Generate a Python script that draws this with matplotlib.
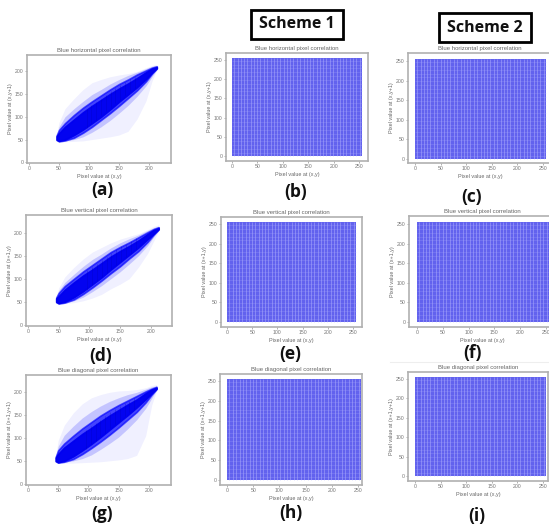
# plot.py
import matplotlib
matplotlib.use('Agg')
import matplotlib.pyplot as plt
from matplotlib.patches import Rectangle

W, H = 549, 525

# ─────────────────────────────────────────────────────────────
# VALUES
# ─────────────────────────────────────────────────────────────

band_x = [46, 50, 60, 75, 90, 105, 120, 135, 150, 165, 180, 195, 205, 213]

a_core_lo  = [50, 47, 50, 60, 72, 86, 100, 116, 133, 149, 165, 183, 197, 207]
a_core_hi  = [57, 64, 78, 94, 110, 124, 137, 150, 162, 173, 185, 198, 206, 209]
a_mid_lo   = [49, 46, 48, 54, 65, 78, 93, 108, 124, 141, 158, 178, 195, 206]
a_mid_hi   = [59, 71, 86, 104, 120, 134, 147, 160, 172, 182, 193, 202, 208, 211]
a_inner_lo = [48, 46, 47, 50, 56, 66, 78, 92, 108, 125, 145, 168, 188, 204]
a_inner_hi = [60, 78, 100, 118, 134, 149, 160, 172, 182, 191, 198, 206, 211, 213]
a_outer_lo = [47, 45, 45, 46, 47, 50, 53, 56, 60, 68, 95, 135, 178, 203]
a_outer_hi = [62, 88, 118, 140, 160, 175, 182, 188, 192, 195, 200, 208, 213, 215]

d_core_lo  = [50, 47, 50, 60, 73, 88, 103, 120, 136, 152, 168, 186, 198, 208]
d_core_hi  = [57, 62, 76, 92, 107, 120, 134, 148, 160, 171, 183, 197, 206, 210]
d_mid_lo   = [49, 46, 48, 55, 67, 81, 96, 112, 127, 144, 160, 180, 196, 207]
d_mid_hi   = [59, 69, 84, 100, 116, 130, 144, 158, 169, 179, 190, 201, 208, 212]
d_inner_lo = [48, 46, 48, 52, 60, 72, 85, 100, 115, 132, 150, 172, 191, 205]
d_inner_hi = [60, 74, 92, 110, 127, 142, 154, 167, 178, 187, 195, 205, 211, 214]
d_outer_lo = [47, 45, 46, 48, 52, 58, 66, 78, 88, 100, 125, 155, 182, 204]
d_outer_hi = [62, 80, 104, 125, 143, 158, 168, 178, 186, 192, 198, 207, 214, 217]

g_core_lo  = [50, 47, 50, 60, 73, 87, 102, 118, 134, 150, 167, 185, 198, 208]
g_core_hi  = [57, 65, 79, 94, 109, 122, 136, 149, 161, 173, 184, 198, 206, 210]
g_mid_lo   = [49, 46, 48, 54, 65, 78, 92, 107, 123, 140, 157, 178, 195, 207]
g_mid_hi   = [59, 73, 88, 105, 121, 135, 149, 161, 172, 182, 192, 202, 208, 212]
g_inner_lo = [48, 46, 47, 50, 55, 63, 75, 88, 102, 120, 140, 165, 187, 205]
g_inner_hi = [60, 82, 106, 126, 144, 158, 170, 180, 188, 195, 200, 207, 212, 214]
g_outer_lo = [47, 45, 45, 45, 46, 47, 48, 50, 52, 55, 62, 105, 172, 203]
g_outer_hi = [62, 95, 128, 155, 175, 188, 195, 200, 203, 204, 206, 210, 215, 217]

streak_x  = [96, 104, 112, 120, 128, 136, 144, 152, 160, 168, 176]
streak_lo = [76, 86, 94, 104, 112, 122, 130, 138, 148, 156, 164]
streak_hi = [118, 126, 132, 140, 148, 156, 164, 170, 176, 182, 188]

block_lo = 0
block_hi = 255
gap_x = [4, 11, 17, 24, 30, 37, 43, 50, 56, 63, 69, 76, 82, 89, 95, 102, 108,
         115, 121, 128, 134, 141, 147, 154, 160, 167, 173, 180, 186, 193, 199,
         206, 212, 219, 225, 232, 238, 245, 251]
gap_y = [8, 18, 28, 38, 48, 58, 68, 78, 88, 98, 108, 118, 128, 138, 148, 158,
         168, 178, 188, 198, 208, 218, 228, 238, 248]

corr_ticks = [0, 50, 100, 150, 200]
cipher_ticks = [0, 50, 100, 150, 200, 250]
captions = ["(a)", "(b)", "(c)", "(d)", "(e)", "(f)", "(g)", "(h)", "(i)"]

# ─────────────────────────────────────────────────────────────
# LAYOUT — pixel boxes (left, right, top, bottom) and tick anchors
# ─────────────────────────────────────────────────────────────

def make_axes(box, x_anchor, y_anchor, x_top, y_top):
    left, right, top, bottom = box
    ax = fig.add_axes([left / W, 1 - bottom / H, (right - left) / W, (bottom - top) / H])
    sx = (x_anchor[1] - x_anchor[0]) / x_top
    sy = (y_anchor[0] - y_anchor[1]) / y_top
    ax.set_xlim((left - x_anchor[0]) / sx, (right - x_anchor[0]) / sx)
    ax.set_ylim((y_anchor[0] - bottom) / sy, (y_anchor[0] - top) / sy)
    for s in ax.spines.values():
        s.set_color("#b0b0b0")
        s.set_linewidth(1.2)
    ax.tick_params(labelsize=3.7, length=1.2, width=0.4, pad=1.2,
                   colors="#777777")
    return ax


def label_axes(ax, title, ylabel, ticks):
    ax.set_title(title, fontsize=4.3, color="#666666", pad=2.2)
    ax.set_xlabel("Pixel value at (x,y)", fontsize=3.9, color="#666666", labelpad=2.2)
    ax.set_ylabel(ylabel, fontsize=3.9, color="#666666", labelpad=1.5)
    ax.set_xticks(ticks)
    ax.set_yticks(ticks)


def draw_band(ax, core_lo, core_hi, mid_lo, mid_hi, inner_lo, inner_hi, outer_lo, outer_hi):
    ax.fill_between(band_x, outer_lo, outer_hi, color="#0000ff", alpha=0.06, lw=0)
    ax.fill_between(band_x, inner_lo, inner_hi, color="#0000ff", alpha=0.18, lw=0)
    ax.fill_between(band_x, mid_lo, mid_hi, color="#0000ff", alpha=0.65, lw=1.2)
    ax.fill_between(band_x, core_lo, core_hi, color="#0000f0", alpha=0.95, lw=1.2)
    ax.vlines(streak_x, streak_lo, streak_hi, color="#0000b8", lw=0.6, alpha=0.3)


def draw_block(ax):
    ax.fill_between([block_lo, block_hi], block_lo, block_hi, color="#6262ee", lw=0)
    ax.vlines(gap_x, block_lo, block_hi, color="#b4b4ff", lw=0.55, alpha=0.6)
    ax.hlines(gap_y, block_lo, block_hi, color="#b4b4ff", lw=0.4, alpha=0.35)


fig = plt.figure(figsize=(W / 100, H / 100), dpi=100)
plt.rcParams['font.family'] = ['Liberation Sans', 'DejaVu Sans']

# correlation panels
ax = make_axes((27, 171, 55, 163), (29, 149), (162.3, 71.3), 200, 200)
draw_band(ax, a_core_lo, a_core_hi, a_mid_lo, a_mid_hi, a_inner_lo, a_inner_hi, a_outer_lo, a_outer_hi)
label_axes(ax, "Blue horizontal pixel correlation", "Pixel value at (x,y+1)", corr_ticks)

ax = make_axes((26, 172, 215, 326), (28, 150.7), (324.7, 232.7), 200, 200)
draw_band(ax, d_core_lo, d_core_hi, d_mid_lo, d_mid_hi, d_inner_lo, d_inner_hi, d_outer_lo, d_outer_hi)
label_axes(ax, "Blue vertical pixel correlation", "Pixel value at (x+1,y)", corr_ticks)

ax = make_axes((26, 171, 375, 485), (28, 148.7), (483.7, 392.3), 200, 200)
draw_band(ax, g_core_lo, g_core_hi, g_mid_lo, g_mid_hi, g_inner_lo, g_inner_hi, g_outer_lo, g_outer_hi)
label_axes(ax, "Blue diagonal pixel correlation", "Pixel value at (x+1,y+1)", corr_ticks)

# cipher panels
cipher_panels = [
    ((226, 368, 53, 161), (232, 359), (156, 60), "Blue horizontal pixel correlation", "Pixel value at (x,y+1)"),
    ((408, 552, 53, 163), (415, 543), (159, 61), "Blue horizontal pixel correlation", "Pixel value at (x,y+1)"),
    ((221, 362, 217, 327), (227, 353), (322, 224), "Blue vertical pixel correlation", "Pixel value at (x+1,y)"),
    ((409, 555, 216, 327), (417, 546), (322, 224), "Blue vertical pixel correlation", "Pixel value at (x+1,y)"),
    ((220, 362, 374, 485), (227, 358), (480, 381), "Blue diagonal pixel correlation", "Pixel value at (x+1,y+1)"),
    ((408, 548, 372, 481), (415, 543), (476, 379), "Blue diagonal pixel correlation", "Pixel value at (x+1,y+1)"),
]
for box, xa, ya, title, ylabel in cipher_panels:
    ax = make_axes(box, xa, ya, 250, 250)
    draw_block(ax)
    label_axes(ax, title, ylabel, cipher_ticks)

# scheme boxes
for (left, top, right, bottom), name in [((251, 10, 343, 39), "Scheme 1"),
                                         ((439, 13, 531, 42), "Scheme 2")]:
    fig.add_artist(Rectangle((left / W, 1 - bottom / H), (right - left) / W, (bottom - top) / H,
                             transform=fig.transFigure, fill=False, edgecolor="black", linewidth=2))
    fig.text((left + right) / 2 / W, 1 - (top + bottom) / 2 / H, name, fontsize=11.5,
             fontweight="bold", family="Open Sans", ha="center", va="center", color="#111111")

# panel captions
caption_xy = [(102, 190), (296, 192), (472, 197),
              (101, 356), (290, 354), (472, 353),
              (102, 514), (291, 513), (477, 516)]
for (cx, cy), cap in zip(caption_xy, captions):
    fig.text(cx / W, 1 - cy / H, cap, fontsize=12.5, fontweight="bold", family="Open Sans",
             ha="center", va="center", color="#111111")

# faint crop line above panel (i)
fig.add_artist(plt.Line2D([390 / W, 1], [1 - 362 / H, 1 - 362 / H], color="#eeeeee",
                          linewidth=0.8, transform=fig.transFigure))

fig.savefig("out.png", dpi=100)
plt.close()
